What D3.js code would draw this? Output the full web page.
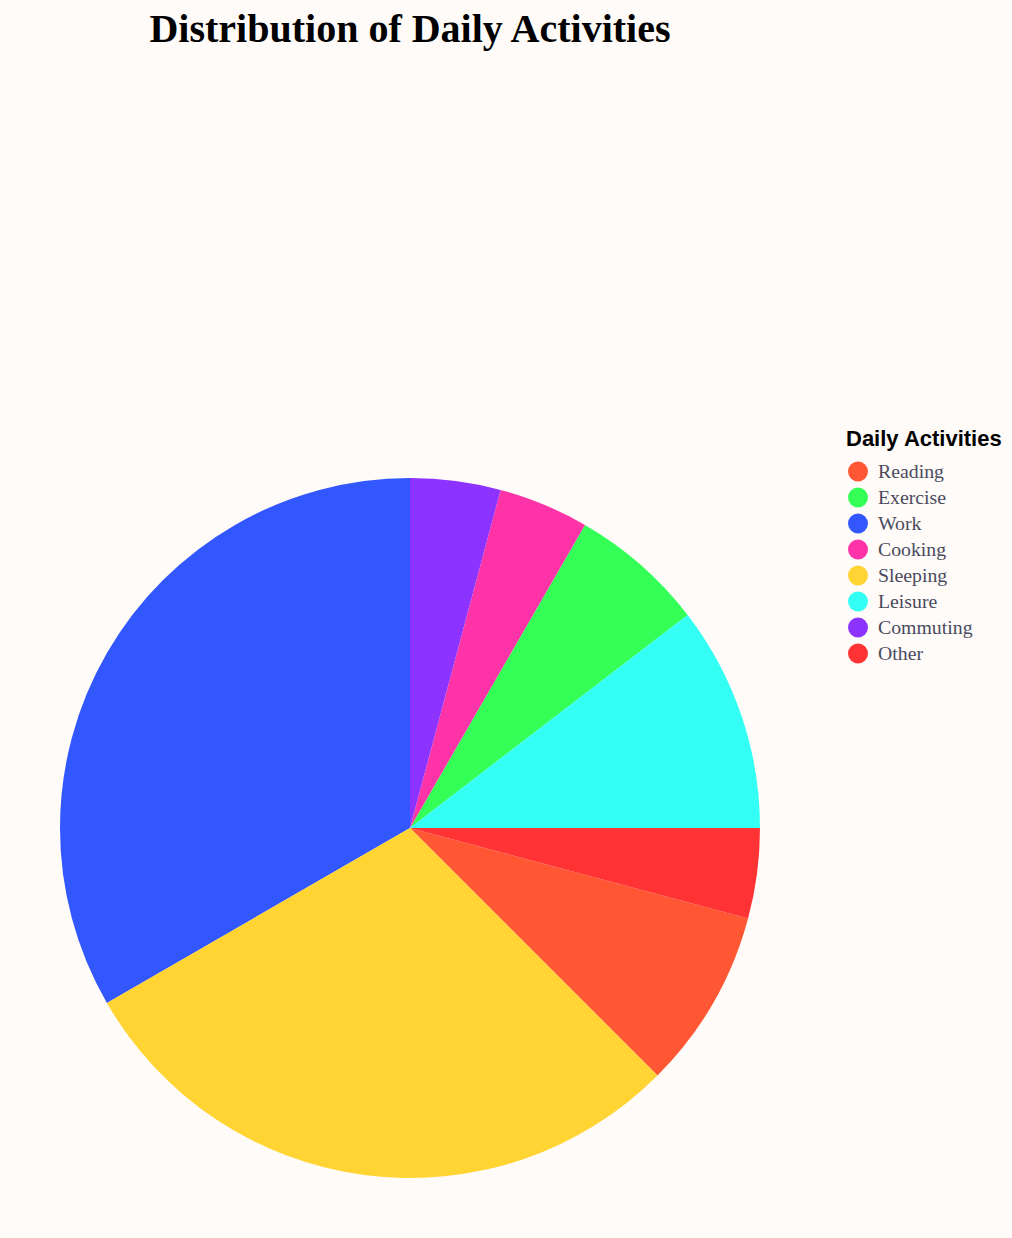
<!DOCTYPE html>
<html><head><meta charset="utf-8">
<script src="https://cdn.jsdelivr.net/npm/d3@7"></script>
<style>html,body{margin:0;padding:0;background:#FFFBF8;}</style>
</head><body>
<script>
const categories = ["Reading","Exercise","Work","Cooking","Sleeping","Leisure","Commuting","Other"];
const hours = [2, 1.5, 8, 1, 7, 2.5, 1, 1];
const colors = ["#FF5733","#33FF57","#3357FF","#FF33A8","#FFD433","#33FFF5","#8C33FF","#FF3333"];
const titleText = "Distribution of Daily Activities";
const legendTitle = "Daily Activities";

const W = 1012, H = 1238;
const svg = d3.select("body").append("svg").attr("width", W).attr("height", H);
svg.append("rect").attr("width", W).attr("height", H).attr("fill", "#FFFBF8");

const data = categories.map((c, i) => ({cat: c, value: hours[i]}));
const color = d3.scaleOrdinal().domain(categories).range(colors);

const cx = 410, cy = 828, R = 350;
const pie = d3.pie().value(d => d.value).sort((a, b) => d3.ascending(a.cat, b.cat));
const arc = d3.arc().innerRadius(0).outerRadius(R);
svg.append("g").attr("transform", `translate(${cx},${cy})`)
  .selectAll("path").data(pie(data)).join("path")
  .attr("d", arc).attr("fill", d => color(d.data.cat));

svg.append("text").attr("x", 410).attr("y", 42).attr("text-anchor", "middle")
  .attr("font-family", "'Liberation Serif', 'Times New Roman', serif")
  .attr("font-weight", "bold").attr("font-size", 40).attr("fill", "#000")
  .text(titleText);

const lg = svg.append("g").attr("transform", "translate(846,0)");
lg.append("text").attr("x", 0).attr("y", 446)
  .attr("font-family", "'Liberation Sans', Arial, sans-serif")
  .attr("font-weight", "bold").attr("font-size", 22).attr("fill", "#000")
  .text(legendTitle);
const items = lg.selectAll("g.item").data(categories).join("g")
  .attr("transform", (d, i) => `translate(0,${471.5 + i * 26})`);
items.append("circle").attr("cx", 12).attr("cy", 0).attr("r", 10).attr("fill", d => color(d));
items.append("text").attr("x", 32).attr("y", 6.5)
  .attr("font-family", "'Liberation Serif', 'Times New Roman', serif")
  .attr("font-size", 19.8).attr("fill", "#4A4A5E").text(d => d);
</script>
</body></html>
